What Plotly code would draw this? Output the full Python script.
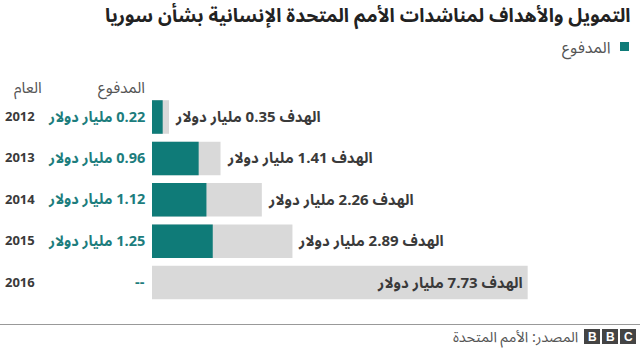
import plotly.graph_objects as go

years = ["2012", "2013", "2014", "2015", "2016"]
paid = [0.22, 0.96, 1.12, 1.25, None]
target = [0.35, 1.41, 2.26, 2.89, 7.73]
paid_labels = ["0.22 مليار دولار", "0.96 مليار دولار", "1.12 مليار دولار", "1.25 مليار دولار", "--"]
target_labels = ["الهدف 0.35 مليار دولار", "الهدف 1.41 مليار دولار", "الهدف 2.26 مليار دولار",
                 "الهدف 2.89 مليار دولار", "الهدف 7.73 مليار دولار"]

title = "التمويل والأهداف لمناشدات الأمم المتحدة الإنسانية بشأن سوريا"
legend_label = "المدفوع"
header_year = "العام"
header_paid = "المدفوع"
source = "المصدر: الأمم المتحدة"

W, H = 640, 351
TEAL = "#0f7b78"
GREY = "#d9d9d9"
TXT = "#3a3a3a"
FONT = "Noto Sans Arabic, Noto Sans, DejaVu Sans, sans-serif"
RLM = "\u200f"

fig = go.Figure()
fig.add_trace(go.Bar(y=years, x=target, orientation="h", marker=dict(color=GREY, line=dict(width=0)),
                     width=0.81, hoverinfo="skip", showlegend=False))
fig.add_trace(go.Bar(y=years, x=[p if p is not None else 0 for p in paid], orientation="h",
                     marker=dict(color=TEAL, line=dict(width=0)), width=0.81, hoverinfo="skip",
                     showlegend=False))

px_per_unit = 48.6
x0 = 152
row0 = 117.0
row_gap = 41.4

def py(p):
    return 1 - p / H

ann = []
for i, y in enumerate(years):
    ann.append(dict(xref="paper", yref="y", x=3 / W, y=i, text=f"<b>{y}</b>", showarrow=False,
                    xanchor="left", yanchor="middle", font=dict(family=FONT, size=13, color=TXT)))
    ann.append(dict(xref="paper", yref="y", x=147 / W, y=i, text=f"<b>{RLM}{paid_labels[i]}</b>",
                    showarrow=False, xanchor="right", yanchor="middle",
                    font=dict(family=FONT, size=14.5, color="#1d7d7d")))
    inside = target[i] > 5
    ann.append(dict(xref="x", yref="y", x=target[i], y=i, text=f"<b>{RLM}{target_labels[i]}</b>",
                    showarrow=False, xanchor="right" if inside else "left", yanchor="middle",
                    xshift=-3 if inside else 4, font=dict(family=FONT, size=15, color=TXT)))

ann += [
    dict(xref="paper", yref="paper", x=633 / W, y=py(16), text=f"<b>{RLM}{title}</b>", showarrow=False,
         xanchor="right", yanchor="middle", font=dict(family=FONT, size=19, color="#222222")),
    dict(xref="paper", yref="paper", x=613 / W, y=py(48), text=legend_label, showarrow=False,
         xanchor="right", yanchor="middle", font=dict(family=FONT, size=16, color="#555555")),
    dict(xref="paper", yref="paper", x=44 / W, y=py(88), text=header_year, showarrow=False,
         xanchor="right", yanchor="middle", font=dict(family=FONT, size=15.5, color="#555555")),
    dict(xref="paper", yref="paper", x=147 / W, y=py(88), text=header_paid, showarrow=False,
         xanchor="right", yanchor="middle", font=dict(family=FONT, size=15.5, color="#555555")),
    dict(xref="paper", yref="paper", x=580 / W, y=py(337), text=f"{RLM}{source}", showarrow=False,
         xanchor="right", yanchor="middle", font=dict(family=FONT, size=14.5, color="#555555")),
]

for j, letter in enumerate("BBC"):
    bx = 584 + j * 18
    ann.append(dict(xref="paper", yref="paper", x=(bx + 8) / W, y=py(336.5), text=f"<b>{letter}</b>",
                    showarrow=False, xanchor="center", yanchor="middle",
                    font=dict(family="Liberation Sans, Arial, sans-serif", size=12, color="white")))

shapes = [
    dict(type="rect", xref="paper", yref="paper", x0=620 / W, x1=629 / W, y0=py(51), y1=py(42),
         fillcolor=TEAL, line=dict(width=0)),
    dict(type="line", xref="paper", yref="paper", x0=0, x1=1, y0=py(324.5), y1=py(324.5),
         line=dict(color="#999999", width=1)),
]
for j in range(3):
    bx = 584 + j * 18
    shapes.append(dict(type="rect", xref="paper", yref="paper", x0=bx / W, x1=(bx + 16) / W,
                       y0=py(344), y1=py(329), fillcolor="#444444", line=dict(width=0), layer="below"))

fig.update_layout(
    width=W, height=H, margin=dict(l=0, r=0, t=0, b=0),
    paper_bgcolor="white", plot_bgcolor="white", barmode="overlay",
    xaxis=dict(domain=[x0 / W, 1], range=[0, (W - x0) / px_per_unit], visible=False, fixedrange=True),
    yaxis=dict(type="category", domain=[0, 1],
               range=[(H - row0) / row_gap, -row0 / row_gap], visible=False, fixedrange=True),
    annotations=ann, shapes=shapes, showlegend=False,
)

fig.write_html("out.html", config={"displayModeBar": False})
